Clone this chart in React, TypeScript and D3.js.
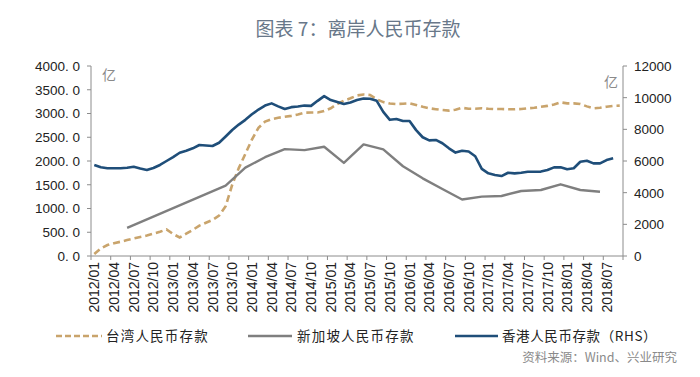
import React from 'react';
import * as d3 from 'd3';

// ---- categories (monthly, 2012/01 - 2018/09) ----
const months: string[] = [];
for (let y = 2012; y <= 2018; y++) {
  for (let m = 1; m <= 12; m++) {
    if (y === 2018 && m > 9) break;
    months.push(`${y}/${String(m).padStart(2, '0')}`);
  }
}

// 香港人民币存款 (RHS), 2012/01 - 2018/08
const hkValues = [
  5750, 5600, 5540, 5540, 5540, 5570, 5640, 5520, 5430, 5560,
  5750, 6000, 6250, 6520, 6650, 6800, 7010, 6980, 6950, 7150,
  7550, 7960, 8300, 8600, 8950, 9250, 9500, 9640, 9450, 9280,
  9400, 9440, 9500, 9480, 9800, 10100, 9850, 9720, 9600, 9700,
  9850, 9950, 9930, 9800, 9100, 8600, 8650, 8530, 8530, 7950,
  7500, 7300, 7330, 7120, 6800, 6530, 6650, 6600, 6300, 5500,
  5220, 5120, 5050, 5260, 5220, 5260, 5320, 5320, 5330, 5430,
  5600, 5600, 5480, 5540, 5950, 6020, 5850, 5850, 6060, 6170,
];

// 台湾人民币存款, 2012/01 - 2018/09
const twValues = [
  40, 160, 230, 270, 300, 335, 370, 400, 430, 470,
  510, 560, 463, 390, 470, 550, 640, 700, 760, 850,
  1050, 1500, 1850, 2150, 2450, 2700, 2830, 2880, 2910, 2930,
  2950, 2980, 3017, 3020, 3020, 3050, 3110, 3200, 3270, 3320,
  3380, 3400, 3390, 3300, 3240, 3210, 3200, 3205, 3214, 3180,
  3140, 3110, 3090, 3073, 3060, 3080, 3120, 3100, 3100, 3110,
  3100, 3094, 3094, 3090, 3088, 3095, 3109, 3120, 3143, 3160,
  3190, 3235, 3214, 3214, 3200, 3150, 3109, 3120, 3143, 3160,
  3165,
];

// 新加坡人民币存款 (sparse observations)
const sgMonths = [
  '2012/06', '2013/09', '2013/12', '2014/03', '2014/06', '2014/09', '2014/12',
  '2015/03', '2015/06', '2015/09', '2015/12', '2016/03', '2016/06', '2016/09',
  '2016/12', '2017/03', '2017/06', '2017/09', '2017/12', '2018/03', '2018/06',
];
const sgValues = [
  590, 1480, 1860, 2080, 2250, 2230, 2300,
  1960, 2350, 2246, 1890, 1635, 1410, 1190,
  1249, 1263, 1368, 1389, 1509, 1389, 1354,
];

const leftTicks = [0, 500, 1000, 1500, 2000, 2500, 3000, 3500, 4000];
const leftTickLabels = ['0. 0', '500. 0', '1000. 0', '1500. 0', '2000. 0', '2500. 0', '3000. 0', '3500. 0', '4000. 0'];
const rightTicks = [0, 2000, 4000, 6000, 8000, 10000, 12000];

const title = '图表 7：离岸人民币存款';
const legendNames = ['台湾人民币存款', '新加坡人民币存款', '香港人民币存款（RHS）'];
const sourceText = '资料来源：Wind、兴业研究';

const C_TW = '#c9a46c';
const C_SG = '#7f7f7f';
const C_HK = '#1f4e79';

export default function App() {
  const W = 700, H = 377;
  const left = 91, right = 623, top = 66, bottom = 256;

  const x = d3.scaleBand<string>().domain(months).range([left, right]).padding(0);
  const bw = x.bandwidth();
  const cx = (m: string) => (x(m) as number) + bw / 2;
  const yL = d3.scaleLinear().domain([0, 4000]).range([bottom, top]);
  const yR = d3.scaleLinear().domain([0, 12000]).range([bottom, top]);

  const lineL = d3.line<[string, number]>().x(d => cx(d[0])).y(d => yL(d[1])).curve(d3.curveLinear);
  const lineR = d3.line<[string, number]>().x(d => cx(d[0])).y(d => yR(d[1])).curve(d3.curveLinear);

  const twPath = lineL(twValues.map((v, i) => [months[i], v] as [string, number])) || '';
  const sgPath = lineL(sgValues.map((v, i) => [sgMonths[i], v] as [string, number])) || '';
  const hkPath = lineR(hkValues.map((v, i) => [months[i], v] as [string, number])) || '';

  const tickIdx = d3.range(0, months.length + 1, 3);
  const labelMonths = months.filter((_, i) => i % 3 === 0);

  const numFont = '"Liberation Sans", Arial, sans-serif';
  const cjkFont = '"Noto Sans CJK SC", "Noto Sans", sans-serif';
  const legY = 336;

  return (
    <svg width={W} height={H} style={{ position: 'absolute', left: 0, top: 0, background: '#fff' }}>
      <rect x={0} y={0} width={W} height={H} fill="#fff" />
      <text x={358} y={36} textAnchor="middle" fontFamily={cjkFont} fontSize={19} fill="#687789">{title}</text>

      {/* unit labels */}
      <text x={109} y={80} textAnchor="middle" fontFamily={cjkFont} fontSize={14} fill="#8a8a8a">亿</text>
      <text x={611} y={87} textAnchor="middle" fontFamily={cjkFont} fontSize={14} fill="#8a8a8a">亿</text>

      {/* left axis */}
      <line x1={left} x2={left} y1={top} y2={bottom} stroke="#8c8c8c" strokeWidth={1} />
      {leftTicks.map((t, i) => (
        <g key={'l' + t}>
          <line x1={left - 4} x2={left} y1={yL(t)} y2={yL(t)} stroke="#8c8c8c" />
          <text x={80} y={yL(t)} dy="0.36em" textAnchor="end" fontFamily={numFont} fontSize={13.5} fill="#222">{leftTickLabels[i]}</text>
        </g>
      ))}

      {/* right axis */}
      <line x1={right} x2={right} y1={top} y2={bottom} stroke="#8c8c8c" strokeWidth={1} />
      {rightTicks.map(t => (
        <g key={'r' + t}>
          <line x1={right} x2={right + 4} y1={yR(t)} y2={yR(t)} stroke="#8c8c8c" />
          <text x={634} y={yR(t)} dy="0.36em" textAnchor="start" fontFamily={numFont} fontSize={13.5} fill="#222">{t}</text>
        </g>
      ))}

      {/* bottom axis */}
      <line x1={left} x2={right} y1={bottom} y2={bottom} stroke="#8c8c8c" strokeWidth={1} />
      {tickIdx.map(k => (
        <line key={'t' + k} x1={left + k * bw} x2={left + k * bw} y1={bottom} y2={bottom + 4} stroke="#8c8c8c" />
      ))}
      {labelMonths.map(m => (
        <text key={m} transform={`translate(${cx(m)},${bottom + 6}) rotate(-90)`} dy="0.36em" textAnchor="end"
          fontFamily={numFont} fontSize={14} fill="#222">{m}</text>
      ))}

      {/* series */}
      <path d={twPath} fill="none" stroke={C_TW} strokeWidth={2.6} strokeDasharray="7,4" />
      <path d={sgPath} fill="none" stroke={C_SG} strokeWidth={2.4} strokeLinejoin="round" />
      <path d={hkPath} fill="none" stroke={C_HK} strokeWidth={2.6} strokeLinejoin="round" />

      {/* legend */}
      <line x1={56} x2={102} y1={legY} y2={legY} stroke={C_TW} strokeWidth={2.6} strokeDasharray="6,3" />
      <text x={106} y={legY} dy="0.36em" fontFamily={cjkFont} fontSize={13.5} fill="#222" letterSpacing={1.2}>{legendNames[0]}</text>
      <line x1={248} x2={292} y1={legY} y2={legY} stroke={C_SG} strokeWidth={2.4} />
      <text x={297} y={legY} dy="0.36em" fontFamily={cjkFont} fontSize={13.5} fill="#222" letterSpacing={1.2}>{legendNames[1]}</text>
      <line x1={455} x2={498} y1={legY} y2={legY} stroke={C_HK} strokeWidth={2.6} />
      <text x={502} y={legY} dy="0.36em" fontFamily={cjkFont} fontSize={13.5} fill="#222" letterSpacing={0.6}>{legendNames[2]}</text>

      <text x={677} y={362} textAnchor="end" fontFamily={cjkFont} fontSize={12.5} fill="#8a8a8a">{sourceText}</text>
    </svg>
  );
}
